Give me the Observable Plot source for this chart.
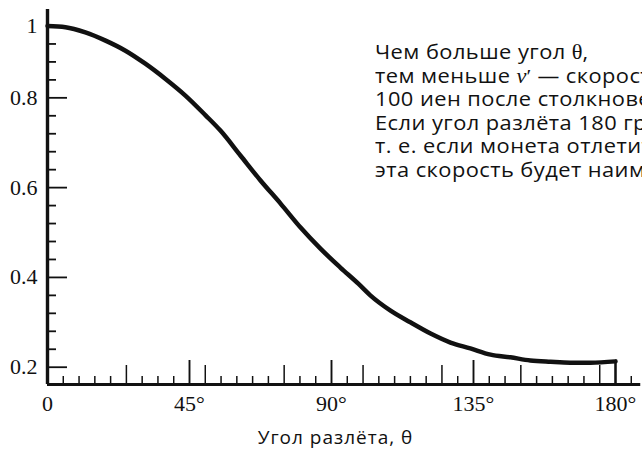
<!DOCTYPE html>
<html>
<head>
<meta charset="utf-8">
<script src="https://cdn.jsdelivr.net/npm/d3@7"></script>
<script src="https://cdn.jsdelivr.net/npm/@observablehq/plot@0.6"></script>
<style>
  html, body { margin: 0; padding: 0; background: #fff; overflow: hidden; }
  #wrap { position: relative; width: 642px; height: 461px; overflow: hidden; }
  #wrap svg { display: block; }
  #note {
    position: absolute; left: 375px; top: 40px; white-space: nowrap;
    font-family: "Open Sans", sans-serif; font-size: 19.5px; line-height: 23.5px; color: #111;
    letter-spacing: 0.4px;
    transform: scaleX(1.12); transform-origin: 0 0;
  }
  .serif { font-family: "Liberation Serif", serif; letter-spacing: 0; line-height: 1; }
  .v { font-family: "Liberation Serif", serif; font-style: italic; font-size: 20px; letter-spacing: 0; line-height: 1; }
</style>
</head>
<body>
<div id="wrap">
  <div id="note">
    Чем больше угол <span class="serif" style="font-size:20px">θ</span>,<br>
    тем меньше <span class="v">v</span><span class="serif">′</span> — скорость<br>
    100 иен после столкновения.<br>
    Если угол разлёта 180 градусов,<br>
    т. е. если монета отлетит назад,<br>
    эта скорость будет наименьшей.
  </div>
</div>
<script>
// Curve: speed ratio v'/v versus scattering angle θ (degrees)
const angle = [0, 5.7, 12, 18.4, 24.7, 31, 37.4, 43.7, 50.1, 54.8, 61.2, 67.5, 73.8, 80.2, 86.5, 92.8, 98.5, 102.3, 108.7, 115, 121.4, 127.7, 134, 140.4, 146.7, 153, 159.4, 165.7, 172.1, 180];
const ratio = [1.0, 0.995, 0.972, 0.935, 0.905, 0.876, 0.842, 0.805, 0.761, 0.727, 0.671, 0.616, 0.565, 0.511, 0.464, 0.422, 0.386, 0.360, 0.326, 0.300, 0.275, 0.255, 0.242, 0.228, 0.222, 0.215, 0.212, 0.210, 0.210, 0.213];

// Tick values and labels
const xMajorTicks = [45, 90, 135, 180];
const xMediumTicks = [25, 50, 75, 100, 125, 150, 175];
const xMinorTicks = [5, 10, 15, 20, 30, 35, 40, 55, 60, 65, 70, 80, 85, 95, 105, 110, 115, 120, 130, 140, 145, 155, 160, 165, 170, 185];
const xTickValues = [0, 45, 90, 135, 180];
const xTickLabels = ["0", "45°", "90°", "135°", "180°"];
const yMajorTicks = [0.2, 0.4, 0.6, 0.8];
const yMinorTicks = [0.24, 0.28, 0.32, 0.36, 0.44, 0.48, 0.52, 0.56, 0.64, 0.68, 0.72, 0.76, 0.84, 0.88, 0.92];
const yTickValues = [0.2, 0.4, 0.6, 0.8, 1];
const yTickLabels = ["0.2", "0.4", "0.6", "0.8", "1"];
const xAxisTitle = "Угол разлёта, θ";

// Axis extents (data units)
const yBottom = 0.1615, yAxisTop = 1.074, xAxisEnd = 188;

// The drawn axis is compressed above 0.92 (the "1" sits closer than the linear spacing)
const yBreak = 0.92, yTopSquash = 0.4983;
const sq = v => v <= yBreak ? v : yBreak + (v - yBreak) * yTopSquash;

const curve = angle.map((a, i) => ({angle: a, ratio: ratio[i]}));
const last = curve[curve.length - 1];

const W = 642, H = 461, mL = 47, mR = 27, mT = 9, mB = 77;
const frameH = H - mT - mB, frameW = W - mL - mR;
const ink = "#111";
const serif = "Liberation Serif, Times New Roman, serif";

const chart = Plot.plot({
  width: W, height: H,
  marginLeft: mL, marginRight: mR, marginTop: mT, marginBottom: mB,
  x: {domain: [0, 180], axis: null},
  y: {domain: [sq(yBottom), sq(yAxisTop)], axis: null},
  marks: [
    // x ticks (inward, upward)
    Plot.tickX(xMinorTicks, {x: d => d, insetTop: frameH - 8, stroke: ink, strokeWidth: 1.5}),
    Plot.tickX(xMediumTicks, {x: d => d, insetTop: frameH - 19, stroke: ink, strokeWidth: 1.5}),
    Plot.tickX(xMajorTicks, {x: d => d, insetTop: frameH - 24, stroke: ink, strokeWidth: 1.9}),
    // y ticks (inward, rightward): 9px and 20px long
    Plot.tickY(yMinorTicks, {y: d => sq(d), insetRight: frameW - 9, stroke: ink, strokeWidth: 1.8}),
    Plot.tickY(yMajorTicks, {y: d => sq(d), insetRight: frameW - 20, stroke: ink, strokeWidth: 1.8}),
    // axis lines
    Plot.ruleY([yBottom], {y: d => sq(d), x1: 0, x2: xAxisEnd, stroke: ink, strokeWidth: 3.2}),
    Plot.tickX([0], {x: d => d, insetTop: 0, stroke: ink, strokeWidth: 3.4}),
    // drop line at 180°
    Plot.ruleX([last], {x: "angle", y1: () => sq(yBottom), y2: d => sq(d.ratio), stroke: ink, strokeWidth: 2.2}),
    // curve
    Plot.line(curve, {x: "angle", y: d => sq(d.ratio), curve: "monotone-x", stroke: ink, strokeWidth: 4.5}),
    // tick labels
    Plot.text(yTickValues, {x: 0, y: d => sq(d), text: (d, i) => yTickLabels[i], dx: -10, textAnchor: "end",
      fontFamily: serif, fontSize: 22, fill: ink}),
    Plot.text(xTickValues, {x: d => d, y: sq(yBottom), text: (d, i) => xTickLabels[i], dy: 19,
      fontFamily: serif, fontSize: 22, fill: ink}),
    // axis title
    Plot.text([xAxisTitle], {x: 90, y: sq(yBottom), text: d => d, dx: 4, dy: 53,
      fontFamily: "Open Sans, sans-serif", fontSize: 19, fill: ink})
  ]
});
chart.querySelectorAll("text").forEach(t => {
  if (t.textContent === xAxisTitle) t.style.letterSpacing = "1px";
});
document.getElementById("wrap").prepend(chart);
</script>
</body>
</html>
